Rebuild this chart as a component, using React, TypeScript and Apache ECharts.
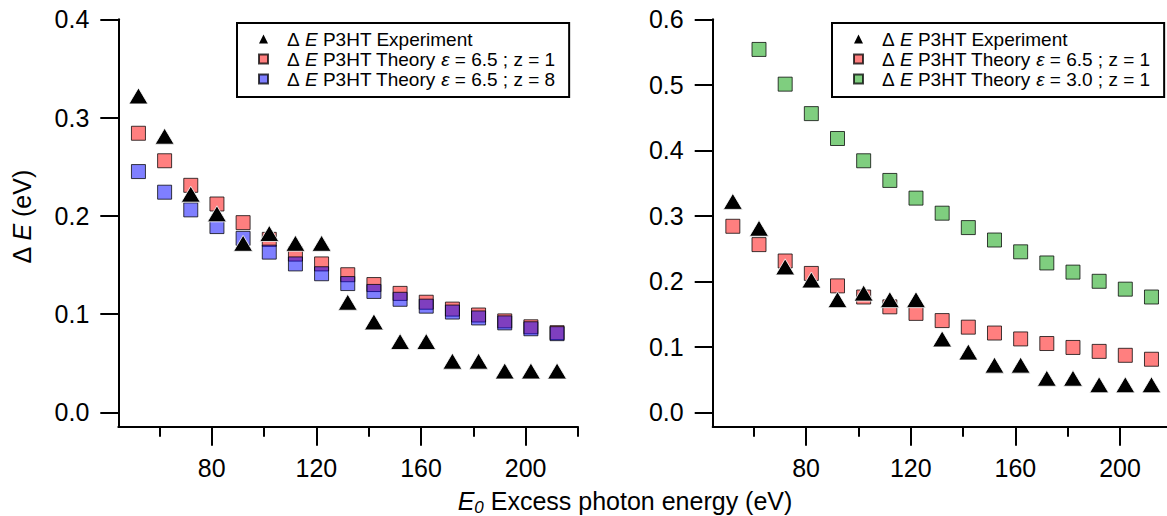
import React, { useEffect, useRef } from "react";
import * as echarts from "echarts";

// ---------- data ----------
const energies = [52, 62, 72, 82, 92, 102, 112, 122, 132, 142, 152, 162, 172, 182, 192, 202, 212];
const experiment = [0.322, 0.281, 0.222, 0.202, 0.172, 0.182, 0.172, 0.172, 0.112, 0.092, 0.072, 0.072, 0.052, 0.052, 0.042, 0.042, 0.042];
const theoryEps65z1 = [0.284, 0.256, 0.231, 0.212, 0.193, 0.176, 0.161, 0.151, 0.14, 0.13, 0.121, 0.112, 0.105, 0.099, 0.093, 0.087, 0.081];
const theoryEps65z8 = [0.245, 0.224, 0.206, 0.189, 0.177, 0.163, 0.151, 0.141, 0.131, 0.123, 0.115, 0.108, 0.102, 0.096, 0.091, 0.085, 0.08];
const theoryEps30z1 = [null, 0.554, 0.501, 0.456, 0.418, 0.384, 0.354, 0.327, 0.304, 0.282, 0.263, 0.245, 0.228, 0.214, 0.2, 0.188, 0.176];

const xMajorTicks = [80, 120, 160, 200];
const xMinorTicks = [60, 100, 140, 180, 220];
const yTicksLeft = [0, 0.1, 0.2, 0.3, 0.4];
const yTicksRight = [0, 0.1, 0.2, 0.3, 0.4, 0.5, 0.6];

const NAME_EXP = "ΔE P3HT Experiment";
const NAME_Z1 = "ΔE P3HT Theory ε = 6.5 ; z = 1";
const NAME_Z8 = "ΔE P3HT Theory ε = 6.5 ; z = 8";
const NAME_E3 = "ΔE P3HT Theory ε = 3.0 ; z = 1";

const legendLabels: Record<string, string> = {
  [NAME_EXP]: "{sp| }Δ {i|E} P3HT Experiment",
  [NAME_Z1]: "{sp| }Δ {i|E} P3HT Theory {i|ε} = 6.5 ; z = 1",
  [NAME_Z8]: "{sp| }Δ {i|E} P3HT Theory {i|ε} = 6.5 ; z = 8",
  [NAME_E3]: "{sp| }Δ {i|E} P3HT Theory {i|ε} = 3.0 ; z = 1",
};

const FONT = '"Liberation Sans", Arial, Helvetica, sans-serif';

const pairs = (ys: (number | null)[]) =>
  energies.map((x, i) => [x, ys[i]]).filter((p) => p[1] !== null);

export default function App() {
  const ref = useRef<HTMLDivElement>(null);

  useEffect(() => {
    if (!ref.current) return;
    const chart = echarts.init(ref.current, undefined, { renderer: "svg" });

    const X_MIN = 44.3;
    const X_MAX = 220;

    const majorX = (grid: number) => ({
      type: "value",
      gridIndex: grid,
      min: X_MIN,
      max: X_MAX,
      position: "bottom",
      axisLine: { show: true, onZero: false, lineStyle: { color: "#000", width: 2 } },
      axisTick: { show: true, inside: false, length: 19, customValues: xMajorTicks, lineStyle: { color: "#000", width: 2 } },
      axisLabel: { show: true, customValues: xMajorTicks, margin: 29, fontSize: 25, color: "#000", fontFamily: FONT },
      splitLine: { show: false },
    });
    const minorX = (grid: number) => ({
      type: "value",
      gridIndex: grid,
      min: X_MIN,
      max: X_MAX,
      position: "bottom",
      axisLine: { show: false, onZero: false },
      axisTick: { show: true, inside: false, length: 10, customValues: xMinorTicks, lineStyle: { color: "#000", width: 2 } },
      axisLabel: { show: false },
      splitLine: { show: false },
    });
    const yAx = (grid: number, min: number, max: number, ticks: number[]) => ({
      type: "value",
      gridIndex: grid,
      min,
      max,
      position: "left",
      axisLine: { show: true, onZero: false, lineStyle: { color: "#000", width: 2 } },
      axisTick: { show: true, inside: false, length: 18, customValues: ticks, lineStyle: { color: "#000", width: 2 } },
      axisLabel: {
        show: true,
        customValues: ticks,
        margin: 29,
        fontSize: 25,
        color: "#000",
        fontFamily: FONT,
        formatter: (v: number) => v.toFixed(1),
      },
      splitLine: { show: false },
    });

    const sq = (name: string, color: string, data: any[], xi: number, yi: number) => ({
      type: "scatter",
      name,
      xAxisIndex: xi,
      yAxisIndex: yi,
      symbol: "rect",
      symbolSize: 14,
      itemStyle: { color, borderColor: "rgba(0,0,0,0.75)", borderWidth: 1, opacity: 1 },
      data,
      z: 2,
    });
    const tri = (xi: number, yi: number) => ({
      type: "scatter",
      name: NAME_EXP,
      xAxisIndex: xi,
      yAxisIndex: yi,
      symbol: "triangle",
      symbolSize: [19, 16],
      itemStyle: { color: "#000", borderColor: "#fff", borderWidth: 0.8, opacity: 1 },
      data: pairs(experiment),
      z: 3,
    });

    const RED = "rgba(255,0,0,0.5)";
    const BLUE = "rgba(0,0,255,0.5)";
    const GREEN = "rgba(0,158,0,0.5)";

    const legendCommon = {
      orient: "vertical",
      top: 23,
      itemWidth: 9,
      itemHeight: 9,
      itemGap: 0,
      padding: [6, 14, 8, 21],
      borderColor: "#000",
      borderWidth: 2,
      backgroundColor: "#fff",
      selectedMode: false,
      formatter: (name: string) => legendLabels[name] || name,
      textStyle: {
        fontSize: 19,
        lineHeight: 20,
        color: "#000",
        fontFamily: FONT,
        rich: {
          i: { fontStyle: "italic", fontSize: 19, lineHeight: 20, fontFamily: FONT, color: "#000" },
          sp: { width: 14, fontSize: 19, lineHeight: 20 },
        },
      },
    };

    chart.setOption({
      animation: false,
      backgroundColor: "#fff",
      grid: [
        { left: 118.3, top: 19.3, width: 459.7, height: 407.4, outerBoundsMode: "none", containLabel: false },
        { left: 712.7, top: 19.3, width: 459.7, height: 407.4, outerBoundsMode: "none", containLabel: false },
      ],
      xAxis: [majorX(0), minorX(0), majorX(1), minorX(1)],
      yAxis: [yAx(0, -0.0147, 0.4, yTicksLeft), yAx(1, -0.022, 0.6, yTicksRight)],
      legend: [
        {
          ...legendCommon,
          left: 237,
          data: [
            { name: NAME_EXP, icon: "triangle", itemStyle: { opacity: 1, borderWidth: 0 } },
            { name: NAME_Z1, icon: "rect" },
            { name: NAME_Z8, icon: "rect" },
          ],
        },
        {
          ...legendCommon,
          left: 832,
          data: [
            { name: NAME_EXP, icon: "triangle", itemStyle: { opacity: 1, borderWidth: 0 } },
            { name: NAME_Z1, icon: "rect" },
            { name: NAME_E3, icon: "rect" },
          ],
        },
      ],
      series: [
        sq(NAME_Z1, RED, pairs(theoryEps65z1), 0, 0),
        sq(NAME_Z8, BLUE, pairs(theoryEps65z8), 0, 0),
        tri(0, 0),
        sq(NAME_Z1, RED, pairs(theoryEps65z1), 2, 1),
        sq(NAME_E3, GREEN, pairs(theoryEps30z1), 2, 1),
        tri(2, 1),
      ],
      graphic: [
        {
          type: "text",
          x: 22,
          y: 217,
          rotation: Math.PI / 2,
          style: {
            text: "Δ {i|E} (eV)",
            fontSize: 25,
            fontFamily: FONT,
            fill: "#000",
            align: "center",
            verticalAlign: "middle",
            rich: { i: { fontStyle: "italic", fontSize: 25, fontFamily: FONT, fill: "#000" } },
          },
        },
        {
          type: "text",
          x: 625,
          y: 501,
          style: {
            text: "{i|E}{sub|0}{n| Excess photon energy (eV)}",
            fontSize: 25,
            fontFamily: FONT,
            fill: "#000",
            align: "center",
            verticalAlign: "middle",
            rich: {
              i: { fontStyle: "italic", fontSize: 25, lineHeight: 30, fontFamily: FONT, fill: "#000" },
              sub: { fontStyle: "italic", fontSize: 17, lineHeight: 17, verticalAlign: "bottom", fontFamily: FONT, fill: "#000" },
              n: { fontSize: 25, lineHeight: 30, fontFamily: FONT, fill: "#000" },
            },
          },
        },
      ],
    });

    return () => chart.dispose();
  }, []);

  return (
    <div
      ref={ref}
      style={{ position: "fixed", left: 0, top: 0, width: 1167, height: 516, background: "#fff" }}
    />
  );
}
